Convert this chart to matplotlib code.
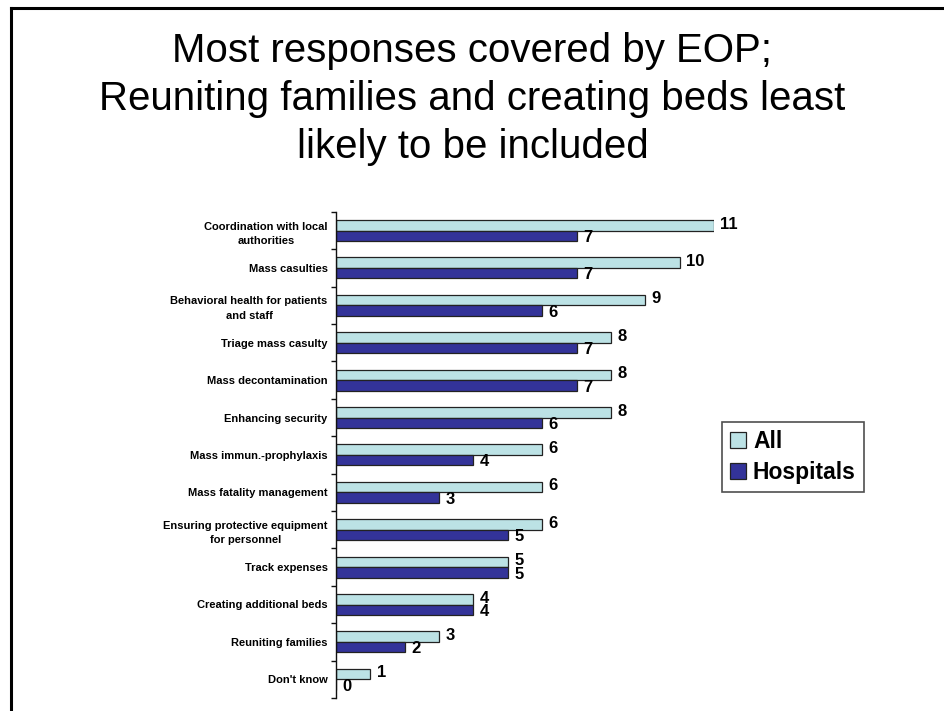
import matplotlib
matplotlib.use("Agg")
import matplotlib.pyplot as plt
from matplotlib.patches import Patch
from matplotlib.lines import Line2D
import numpy as np

plt.rcParams['font.family'] = ['Liberation Sans', 'DejaVu Sans']

categories = [
    "Coordination with local\nauthorities",
    "Mass casulties",
    "Behavioral health for patients\nand staff",
    "Triage mass casulty",
    "Mass decontamination",
    "Enhancing security",
    "Mass immun.-prophylaxis",
    "Mass fatality management",
    "Ensuring protective equipment\nfor personnel",
    "Track expenses",
    "Creating additional beds",
    "Reuniting families",
    "Don't know",
]
all_values = [11, 10, 9, 8, 8, 8, 6, 6, 6, 5, 4, 3, 1]
hospital_values = [7, 7, 6, 7, 7, 6, 4, 3, 5, 5, 4, 2, 0]
series_names = ["All", "Hospitals"]
title = "Most responses covered by EOP;\nReuniting families and creating beds least\nlikely to be included"

W, H = 945, 711
fig = plt.figure(figsize=(W / 100, H / 100), dpi=100)

# axes placement (pixel based)
left_px, right_px = 336, 714
top_px, bottom_px = 211.8, 698
ax = fig.add_axes([left_px / W, 1 - bottom_px / H, (right_px - left_px) / W, (bottom_px - top_px) / H])

y = np.arange(len(categories))
bh = 0.28
c_all = "#BCE2E5"
c_hosp = "#333399"
ax.barh(y - bh / 2, all_values, height=bh, color=c_all, edgecolor="#222222", linewidth=0.9, label=series_names[0])
ax.barh(y + bh / 2, hospital_values, height=bh, color=c_hosp, edgecolor="#222222", linewidth=0.9, label=series_names[1])

for yi, v in zip(y, all_values):
    ax.annotate(str(v), (v, yi - bh / 2), xytext=(4.5, 0.8), textcoords="offset points",
                ha="left", va="center", fontsize=12, fontweight="bold", annotation_clip=False)
for yi, v in zip(y, hospital_values):
    ax.annotate(str(v), (v, yi + bh / 2), xytext=(4.5, -1.2), textcoords="offset points",
                ha="left", va="center", fontsize=12, fontweight="bold", annotation_clip=False)

ax.set_xlim(0, 11)
ax.set_ylim(len(categories) - 0.5, -0.5)
for s in ["top", "right", "bottom"]:
    ax.spines[s].set_visible(False)
ax.spines["left"].set_linewidth(1.0)
ax.spines["left"].set_color("#111111")
ax.set_xticks([])
ax.set_yticks(y)
ax.set_yticklabels(categories, fontsize=8, fontweight="bold", multialignment="center", linespacing=1.55)
ax.tick_params(axis="y", which="major", length=0, pad=6)
ax.set_yticks(np.arange(len(categories) + 1) - 0.5, minor=True)
ax.tick_params(axis="y", which="minor", length=3.5, width=1.0, color="#111111")

# legend
handles = [Patch(facecolor=c_all, edgecolor="#222222", linewidth=0.9),
           Patch(facecolor=c_hosp, edgecolor="#222222", linewidth=0.9)]
leg = fig.legend(handles, series_names, loc="upper left", bbox_to_anchor=(722 / W, 1 - 422 / H),
                 prop={"weight": "bold", "size": 16.5}, frameon=True, fancybox=False,
                 handlelength=0.7, handleheight=0.7, handletextpad=0.3, borderpad=0.35,
                 labelspacing=0.35, borderaxespad=0)
leg.get_frame().set_edgecolor("#222222")
leg.get_frame().set_linewidth(1.2)

# title (va='baseline' anchors the last line's baseline)
fig.text(0.5, 1 - 158 / H, title, ha="center", va="baseline", fontsize=29, linespacing=1.34)

# slide border lines (top and left)
fig.add_artist(Line2D([11 / W, 11 / W], [0, 1 - 8 / H], color="black", linewidth=2.2, transform=fig.transFigure))
fig.add_artist(Line2D([11 / W, 1], [1 - 8 / H, 1 - 8 / H], color="black", linewidth=2.2, transform=fig.transFigure))

fig.savefig("out.png", dpi=100)
